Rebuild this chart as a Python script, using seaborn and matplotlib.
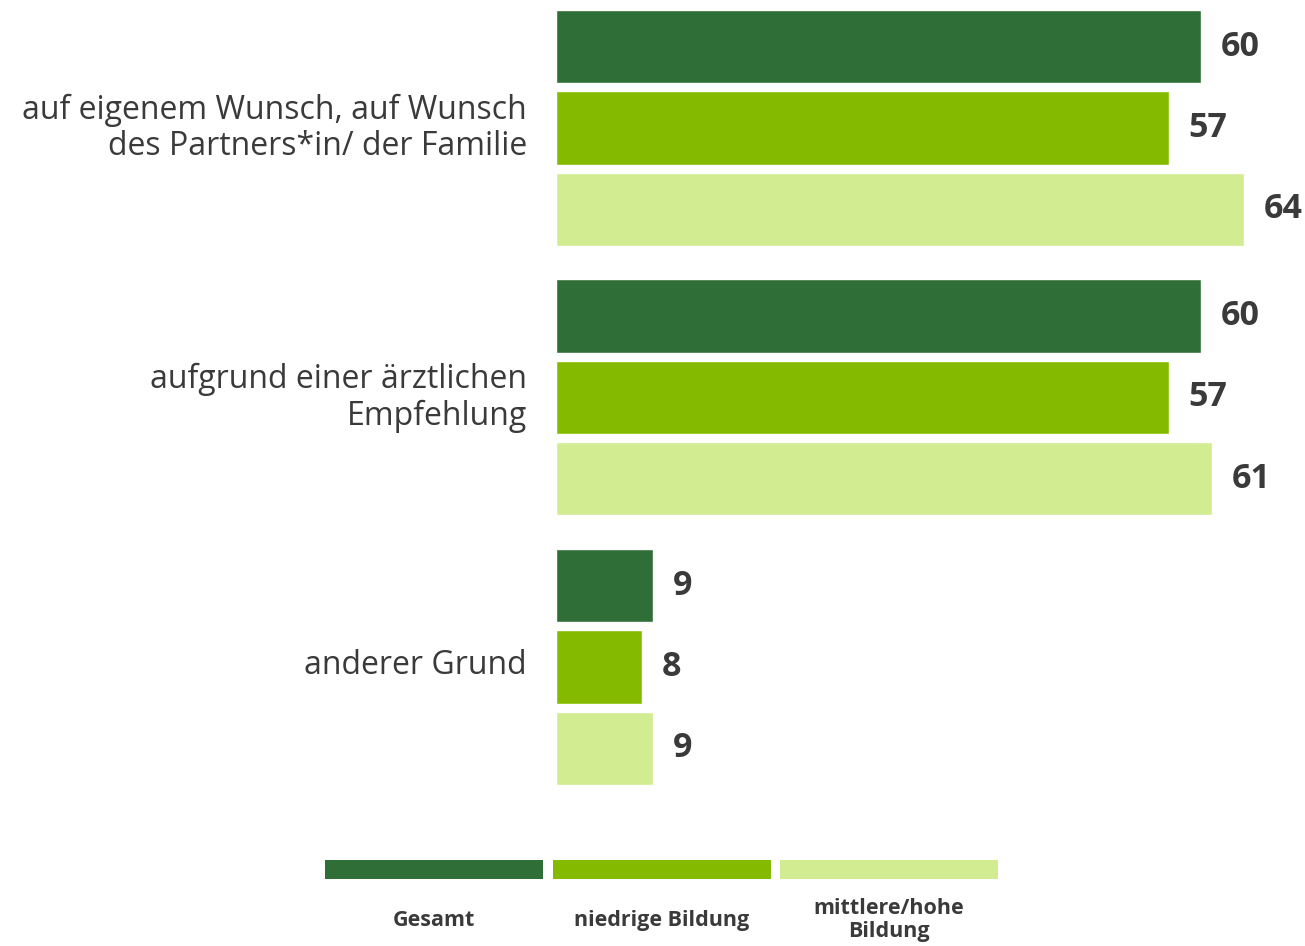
import matplotlib
matplotlib.use("Agg")
import matplotlib.pyplot as plt
import matplotlib.transforms as mtransforms
import seaborn as sns
import pandas as pd
from matplotlib.patches import Rectangle

# data
categories = ["auf eigenem Wunsch, auf Wunsch\ndes Partners*in/ der Familie",
              "aufgrund einer ärztlichen\nEmpfehlung",
              "anderer Grund"]
groups = ["Gesamt", "niedrige Bildung", "mittlere/hohe\nBildung"]
gesamt = [60, 60, 9]
niedrig = [57, 57, 8]
mittel_hoch = [64, 61, 9]
colors = ["#306E38", "#84BB00", "#D2EC91"]

rows = []
for g, vals in zip(groups, [gesamt, niedrig, mittel_hoch]):
    for c, v in zip(categories, vals):
        rows.append({"Grund": c, "Gruppe": g, "Wert": v})
df = pd.DataFrame(rows)

sns.set_style("white")
plt.rcParams['font.family'] = ['Open Sans', 'DejaVu Sans']
text_col = "#3A3A3A"

W, H = 1305, 946
fig = plt.figure(figsize=(W / 100, H / 100), dpi=100)
ax = fig.add_axes([556 / W, 1 - 800 / H, (W - 556) / W, 800 / H])

sns.barplot(data=df, y="Grund", x="Wert", hue="Gruppe", order=categories,
            hue_order=groups, palette=colors, orient="h", width=0.906,
            gap=0.1, ax=ax, legend=False, saturation=1)

for cont in ax.containers:
    ax.bar_label(cont, fmt="%d", padding=14.5, fontsize=24.5, fontweight="bold",
                 color=text_col)

ax.set_xlim(0, 69.7)
ax.set_ylim(2.494, -0.475)
ax.set_xlabel("")
ax.set_ylabel("")
ax.set_xticks([])
ax.tick_params(axis="y", length=0, pad=21)
# nudge category labels up a few pixels
shift = mtransforms.ScaledTranslation(0, 5 / 100, fig.dpi_scale_trans)
for lab in ax.get_yticklabels():
    lab.set_fontsize(23)
    lab.set_color(text_col)
    lab.set_linespacing(1.12)
    lab.set_horizontalalignment("right")
    lab.set_transform(lab.get_transform() + shift)
sns.despine(ax=ax, left=True, bottom=True)

# legend drawn manually below the plot
leg_x = [325, 553, 780]
for x, col, g in zip(leg_x, colors, groups):
    fig.add_artist(Rectangle((x / W, 1 - 879 / H), 218 / W, 19 / H,
                             transform=fig.transFigure, color=col, lw=0))
    fig.text((x + 109) / W, 1 - 920 / H, g, ha="center", va="center",
             fontsize=15.5, fontweight="bold", color=text_col,
             linespacing=1.1)

fig.savefig("out.png", dpi=100)
